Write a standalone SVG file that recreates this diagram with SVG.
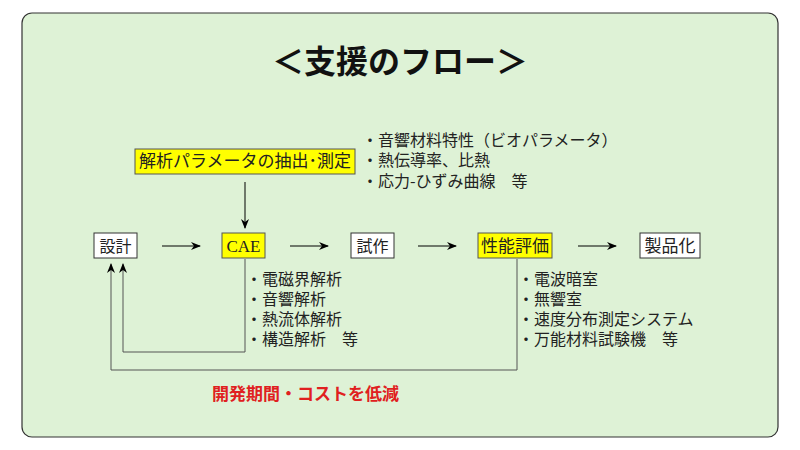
<svg xmlns="http://www.w3.org/2000/svg" width="800" height="450" viewBox="0 0 800 450">
<defs><marker id="a" markerWidth="10" markerHeight="8" refX="9" refY="4" orient="auto" markerUnits="userSpaceOnUse"><path d="M0,0 L10,4 L0,8 L3,4 Z" fill="#000"/></marker></defs>
<style>
text{font-family:"Noto Sans CJK JP","Noto Sans",sans-serif;font-size:16px;fill:#222}
.w{fill:#fff;stroke:#333;stroke-width:1}
.y{fill:#ffff00;stroke:#555;stroke-width:1}
.c{stroke:#000;stroke-width:1;fill:none}
.l{stroke:#555;stroke-width:1;fill:none}
</style>
<rect x="0" y="0" width="800" height="450" fill="#fff"/>
<rect x="22" y="13" width="756" height="424" rx="10" fill="#def2d6" stroke="#333" stroke-width="1.2"/>
<text x="400" y="73" text-anchor="middle" style="font-size:32px;font-weight:bold;fill:#111">＜支援のフロー＞</text>
<g id="param"><rect class="y" x="135" y="149" width="220" height="25"/><text x="245" y="167" text-anchor="middle" style="font-size:17px">解析パラメータの抽出･測定</text></g>
<g id="design"><rect class="w" x="94" y="233" width="43" height="25"/><text x="115.5" y="251.5" text-anchor="middle">設計</text></g>
<g id="cae"><rect class="y" x="222" y="233" width="43" height="25"/><text x="243.5" y="252" text-anchor="middle" style="font-family:'Liberation Serif',serif;font-size:17px">CAE</text></g>
<g id="proto"><rect class="w" x="351" y="233" width="43" height="25"/><text x="372.5" y="251.5" text-anchor="middle">試作</text></g>
<g id="eval"><rect class="y" x="478" y="233" width="74" height="25"/><text x="515" y="251.5" text-anchor="middle" style="font-size:17px">性能評価</text></g>
<g id="product"><rect class="w" x="640" y="233" width="60" height="25"/><text x="670" y="251.5" text-anchor="middle" style="font-size:17px">製品化</text></g>
<g id="connectors">
<path class="c" d="M245,182 V228" marker-end="url(#a)"/>
<path class="c" d="M162,246 H200" marker-end="url(#a)"/>
<path class="c" d="M290,246 H328" marker-end="url(#a)"/>
<path class="c" d="M418,246 H456" marker-end="url(#a)"/>
<path class="c" d="M578,246 H616" marker-end="url(#a)"/>
<path class="l" d="M245,259 V352 H123 V264" marker-end="url(#a)"/>
<path class="l" d="M517,259 V370 H111 V264" marker-end="url(#a)"/>
</g>
<g id="notes">
<text x="362" y="146">・音響材料特性（ビオパラメータ）</text>
<text x="362" y="166">・熱伝導率、比熱</text>
<text x="362" y="187">・応力-ひずみ曲線　等</text>
<text x="246" y="285">・電磁界解析</text>
<text x="246" y="305">・音響解析</text>
<text x="246" y="325">・熱流体解析</text>
<text x="246" y="345">・構造解析　等</text>
<text x="518" y="285">・電波暗室</text>
<text x="518" y="305">・無響室</text>
<text x="518" y="325">・速度分布測定システム</text>
<text x="518" y="345">・万能材料試験機　等</text>
<text x="212" y="400" style="font-size:17px;font-weight:bold;fill:#e02020">開発期間・コストを低減</text>
</g>
</svg>
